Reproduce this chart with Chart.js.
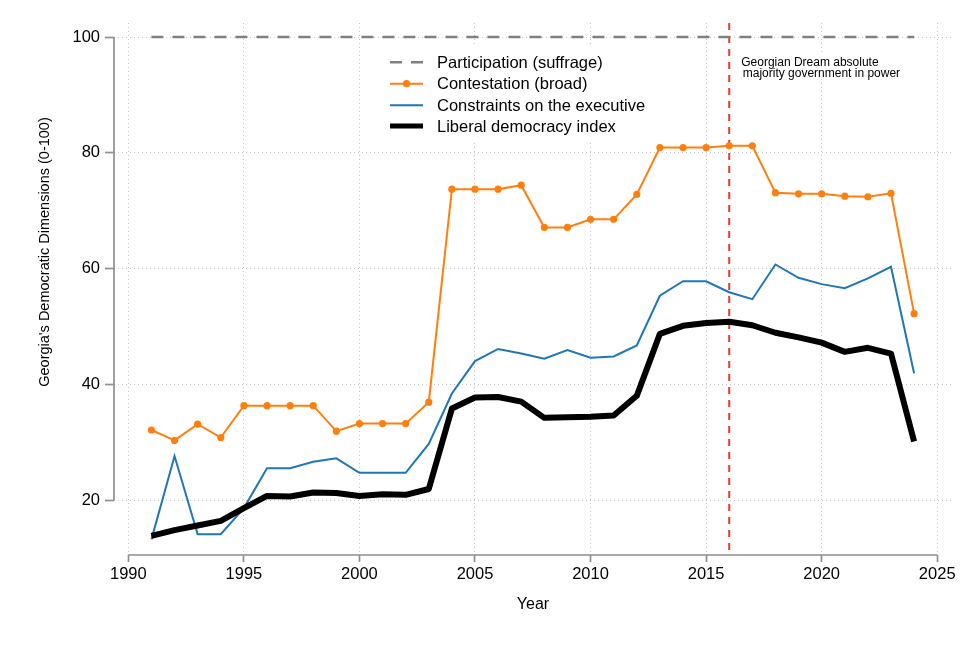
<!DOCTYPE html>
<html>
<head>
<meta charset="utf-8">
<script src="https://cdn.jsdelivr.net/npm/chart.js@4.4.1/dist/chart.umd.min.js"></script>
<style>
  body { margin: 0; background: #fff; }
  canvas { display: block; }
</style>
</head>
<body>
<canvas id="democracyChart" width="977" height="650"></canvas>
<script>
const years = [1991, 1992, 1993, 1994, 1995, 1996, 1997, 1998, 1999, 2000, 2001, 2002,
  2003, 2004, 2005, 2006, 2007, 2008, 2009, 2010, 2011, 2012, 2013, 2014, 2015, 2016,
  2017, 2018, 2019, 2020, 2021, 2022, 2023, 2024];

const participation = [100, 100, 100, 100, 100, 100, 100, 100, 100, 100, 100, 100,
  100, 100, 100, 100, 100, 100, 100, 100, 100, 100, 100, 100, 100, 100,
  100, 100, 100, 100, 100, 100, 100, 100];

const contestation = [32.1, 30.3, 33.1, 30.8, 36.3, 36.3, 36.3, 36.3, 31.9, 33.2, 33.2, 33.2,
  36.9, 73.7, 73.7, 73.7, 74.4, 67.1, 67.1, 68.5, 68.5, 72.8, 80.9, 80.9, 80.9, 81.2,
  81.2, 73.1, 72.9, 72.9, 72.5, 72.4, 73.0, 52.2];

const constraints = [13.2, 27.6, 14.1, 14.1, 18.6, 25.5, 25.5, 26.6, 27.2, 24.7, 24.7, 24.7,
  29.7, 38.4, 44.0, 46.1, 45.3, 44.4, 45.9, 44.6, 44.8, 46.7, 55.3, 57.8, 57.8, 55.9,
  54.7, 60.7, 58.4, 57.3, 56.6, 58.3, 60.3, 41.9];

const liberalDemocracy = [13.8, 14.8, 15.6, 16.4, 18.6, 20.7, 20.6, 21.3, 21.2, 20.7, 21.0, 20.9,
  21.9, 35.8, 37.7, 37.8, 37.0, 34.2, 34.3, 34.4, 34.6, 38.0, 48.7, 50.1, 50.6, 50.8,
  50.2, 48.9, 48.1, 47.2, 45.6, 46.3, 45.3, 30.1];

const xTicks = [1990, 1995, 2000, 2005, 2010, 2015, 2020, 2025];
const yTicks = [20, 40, 60, 80, 100];

const markerYear = 2016;
const markerText = ["Georgian Dream absolute", "majority government in power"];

const FONT = "'Liberation Sans', Arial, Helvetica, sans-serif";
const AXIS_GRAY = "#8f8f8f";

const pts = (vals) => years.map((yr, i) => ({ x: yr, y: vals[i] }));

// red marker line, axis lines, titles, annotation and legend
const overlay = {
  id: "overlay",
  beforeDatasetsDraw(chart) {
    const { ctx, chartArea, scales } = chart;
    const px = scales.x.getPixelForValue(markerYear);
    ctx.save();
    ctx.strokeStyle = "#ea3a2d";
    ctx.lineWidth = 2;
    ctx.setLineDash([7, 6]);
    ctx.beginPath();
    ctx.moveTo(px, chartArea.top);
    ctx.lineTo(px, chartArea.bottom);
    ctx.stroke();
    ctx.restore();
  },
  afterDraw(chart) {
    const { ctx, chartArea, scales } = chart;
    const x = scales.x, y = scales.y;
    ctx.save();

    // axis lines only across the tick range
    ctx.strokeStyle = AXIS_GRAY;
    ctx.lineWidth = 1.7;
    ctx.beginPath();
    ctx.moveTo(chartArea.left, y.getPixelForValue(yTicks[0]));
    ctx.lineTo(chartArea.left, y.getPixelForValue(yTicks[yTicks.length - 1]));
    ctx.moveTo(x.getPixelForValue(xTicks[0]), chartArea.bottom);
    ctx.lineTo(x.getPixelForValue(xTicks[xTicks.length - 1]), chartArea.bottom);
    ctx.stroke();

    // y title
    ctx.fillStyle = "#000";
    ctx.font = "14.5px " + FONT;
    ctx.textAlign = "center";
    ctx.textBaseline = "middle";
    ctx.translate(45, 252);
    ctx.rotate(-Math.PI / 2);
    ctx.fillText("Georgia's Democratic Dimensions (0-100)", 0, 0);
    ctx.setTransform(1, 0, 0, 1, 0, 0);

    // annotation
    const ax = x.getPixelForValue(markerYear) + 12;
    ctx.fillStyle = "#fff";
    ctx.fillRect(ax - 3, 55, 176, 24);
    ctx.fillStyle = "#000";
    ctx.font = "12px " + FONT;
    ctx.textAlign = "left";
    ctx.textBaseline = "alphabetic";
    ctx.fillText(markerText[0], ax, 66);
    ctx.fillText(markerText[1], ax + 1.5, 76.5);

    // legend
    ctx.fillStyle = "#fff";
    ctx.fillRect(368, 46, 300, 94);
    const rows = [62.3, 83.7, 105.3, 126];
    chart.data.datasets.forEach((ds, i) => {
      const ry = rows[i];
      ctx.strokeStyle = ds.borderColor;
      ctx.lineWidth = ds.legendWidth;
      ctx.setLineDash(ds.borderDash || []);
      ctx.beginPath();
      ctx.moveTo(390, ry);
      ctx.lineTo(423, ry);
      ctx.stroke();
      ctx.setLineDash([]);
      if (ds.pointRadius > 0) {
        ctx.fillStyle = ds.borderColor;
        ctx.beginPath();
        ctx.arc(406.5, ry, ds.pointRadius, 0, Math.PI * 2);
        ctx.fill();
      }
      ctx.fillStyle = "#000";
      ctx.font = "16.5px " + FONT;
      ctx.textBaseline = "middle";
      ctx.fillText(ds.label, 437, ry + 1);
    });
    ctx.restore();
  },
};

const ctx = document.getElementById("democracyChart").getContext("2d");
const democracyChart = new Chart(ctx, {
  type: "line",
  data: {
    datasets: [
      {
        label: "Participation (suffrage)",
        data: pts(participation),
        borderColor: "#808080",
        borderWidth: 2.5,
        borderDash: [12, 9],
        legendWidth: 2.5,
        pointRadius: 0,
        order: 4,
      },
      {
        label: "Contestation (broad)",
        data: pts(contestation),
        borderColor: "#ff7f0e",
        backgroundColor: "#ff7f0e",
        borderWidth: 2,
        legendWidth: 2,
        pointRadius: 3.6,
        pointBorderWidth: 0,
        order: 3,
      },
      {
        label: "Constraints on the executive",
        data: pts(constraints),
        borderColor: "#1f77b4",
        borderWidth: 2,
        legendWidth: 2,
        pointRadius: 0,
        order: 2,
      },
      {
        label: "Liberal democracy index",
        data: pts(liberalDemocracy),
        borderColor: "#000000",
        borderWidth: 6,
        legendWidth: 5,
        borderJoinStyle: "round",
        pointRadius: 0,
        order: 1,
      },
    ],
  },
  options: {
    responsive: false,
    animation: false,
    events: [],
    layout: { padding: { top: 23, right: 25, left: 0, bottom: 0 } },
    elements: { line: { tension: 0 } },
    plugins: {
      legend: { display: false },
      tooltip: { enabled: false },
    },
    scales: {
      x: {
        type: "linear",
        min: 1989.38,
        max: 2025.64,
        afterFit: (scale) => { scale.height = 95; },
        afterBuildTicks: (scale) => { scale.ticks = xTicks.map((v) => ({ value: v })); },
        grid: {
          color: "#c4c4c4",
          lineWidth: 1,
          tickColor: AXIS_GRAY,
          tickLength: 7,
          tickWidth: 1.7,
          tickBorderDash: [],
        },
        border: { display: false, dash: [1, 3] },
        ticks: {
          autoSkip: false,
          maxRotation: 0,
          padding: 3,
          color: "#000",
          font: { family: FONT, size: 16.5 },
          callback: (v) => String(v),
        },
        title: {
          display: true,
          text: "Year",
          color: "#000",
          font: { family: FONT, size: 16 },
          padding: { top: 0, bottom: 36 },
        },
      },
      y: {
        min: 10.5,
        max: 102.42,
        afterFit: (scale) => { scale.width = 114; },
        afterBuildTicks: (scale) => { scale.ticks = yTicks.map((v) => ({ value: v })); },
        grid: {
          color: "#c4c4c4",
          lineWidth: 1,
          tickColor: AXIS_GRAY,
          tickLength: 9,
          tickWidth: 1.7,
          tickBorderDash: [],
        },
        border: { display: false, dash: [1, 3] },
        ticks: {
          padding: 5,
          color: "#000",
          font: { family: FONT, size: 16.5 },
        },
      },
    },
  },
  plugins: [overlay],
});
</script>
</body>
</html>
